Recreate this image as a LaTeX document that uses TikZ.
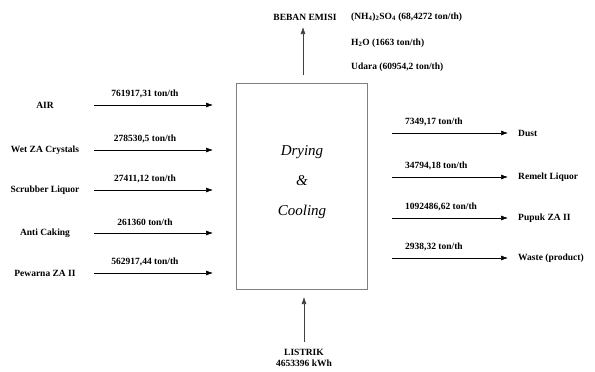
\documentclass[tikz,border=0pt]{standalone}
\usepackage{fontspec}
\setmainfont{Liberation Serif}
\usetikzlibrary{arrows.meta}
\begin{document}
\begin{tikzpicture}[x=1pt,y=-1pt,
  lbl/.style={font=\fontsize{9.5}{11}\selectfont\bfseries, inner sep=0pt},
  flow/.style={-{Latex[length=7pt,width=5pt]}, line width=0.6pt},
  proc/.style={draw=gray, line width=0.6pt},
  ptxt/.style={font=\fontsize{15}{17}\selectfont\itshape}]
\useasboundingbox (0,0) rectangle (595,372);
% process box
\node[proc, minimum width=131pt, minimum height=206pt, inner sep=0pt] (box) at (302,186) {};
\node[ptxt] (t1) at (302,152) {Drying};
\node[ptxt] (t2) at (302,181) {\&};
\node[ptxt] (t3) at (302,212) {Cooling};
% inputs
\foreach \n/\y/\name/\val in {a/105/AIR/{761917,31 ton/th},
  b/150/Wet ZA Crystals/{278530,5 ton/th},
  c/190/Scrubber Liquor/{27411,12 ton/th},
  d/233/Anti Caking/{261360 ton/th},
  e/273/Pewarna ZA II/{562917,44 ton/th}}{
  \node[lbl] (in\n) at (45,\y) {\name};
  \coordinate (s\n) at (94,\y);
  \coordinate (e\n) at (213,\y);
  \draw[flow] (s\n) -- (e\n);
  \node[lbl] (v\n) at (145,\y-11) {\val};
}
% outputs
\foreach \n/\y/\name/\val in {f/133/Dust/{7349,17 ton/th},
  g/177/Remelt Liquor/{34794,18 ton/th},
  h/218/Pupuk ZA II/{1092486,62 ton/th},
  i/258/Waste (product)/{2938,32 ton/th}}{
  \coordinate (s\n) at (392,\y);
  \coordinate (e\n) at (508,\y);
  \draw[flow] (s\n) -- (e\n);
  \node[lbl, anchor=west] (out\n) at (518,\y) {\name};
  \node[lbl, anchor=west] (v\n) at (405,\y-11) {\val};
}
% top
\node[lbl] (beban) at (305,17) {BEBAN EMISI};
\coordinate (topstart) at (303,75);
\draw[flow, draw=darkgray] (topstart) -- (303,27);
\node[lbl, anchor=west] (em1) at (351,17) {(NH\textsubscript{4})\textsubscript{2}SO\textsubscript{4} (68,4272 ton/th)};
\node[lbl, anchor=west] (em2) at (351,43) {H\textsubscript{2}O (1663 ton/th)};
\node[lbl, anchor=west] (em3) at (351,67) {Udara (60954,2 ton/th)};
% bottom
\node[lbl, align=center] (listrik) at (304,358) {LISTRIK\\4653396 kWh};
\coordinate (botstart) at (304,342);
\coordinate (botend) at (304,297);
\draw[flow, draw=darkgray] (botstart) -- (botend);
\end{tikzpicture}
\end{document}
